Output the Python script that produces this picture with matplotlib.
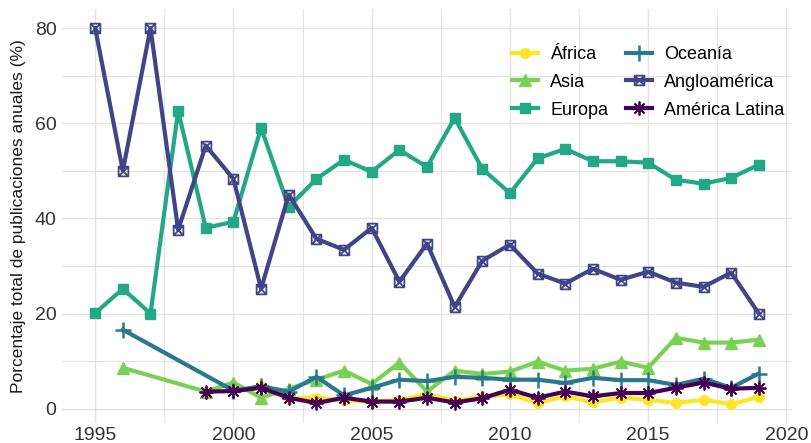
import numpy as np
import matplotlib
matplotlib.use('Agg')
import matplotlib.pyplot as plt
from matplotlib.path import Path

nan = np.nan

# data (percent of yearly publications)
years = list(range(1995, 2020))
africa = [nan, nan, nan, nan, nan, nan, 4.7, 2.3, 2.3, 1.8, 1.5, 1.8, 3.1,
          1.7, 2.5, 3.0, 1.2, 2.6, 1.4, 2.3, 1.9, 1.2, 1.9, 0.9, 2.5]
asia = [nan, 8.6, nan, nan, 3.6, 5.5, 2.3, 4.2, 6.1, 8.0, 5.2, 9.7, 3.6,
        8.0, 7.3, 7.8, 9.9, 8.0, 8.4, 9.9, 8.6, 14.9, 13.9, 13.9, 14.5]
europa = [20.1, 25.2, 20.0, 62.6, 38.0, 39.3, 59.0, 42.4, 48.3, 52.3, 49.8, 54.4, 50.8,
          61.1, 50.4, 45.3, 52.6, 54.6, 52.0, 52.0, 51.7, 48.1, 47.3, 48.5, 51.3]
oceania = [nan, 16.6, nan, nan, nan, 3.8, 4.7, 3.6, 6.7, 2.8, 4.4, 6.1, 5.8,
           6.7, 6.5, 6.1, 6.1, 5.4, 6.5, 6.0, 6.0, 5.0, 6.3, 4.4, 7.4]
angloamerica = [80.0, 50.0, 80.0, 37.6, 55.3, 48.3, 25.2, 45.0, 35.7, 33.4, 38.0, 26.7, 34.7,
                21.4, 31.1, 34.5, 28.4, 26.3, 29.4, 27.1, 28.8, 26.5, 25.6, 28.6, 20.0]
america_latina = [nan, nan, nan, nan, 3.6, 3.7, 4.4, 2.3, 1.2, 2.3, 1.5, 1.5, 2.3,
                  1.3, 2.2, 4.0, 2.3, 3.6, 2.6, 3.3, 3.3, 4.4, 5.5, 4.2, 4.4]

labels = ["África", "Asia", "Europa", "Oceanía", "Angloamérica", "América Latina"]
colors = ["#FDE725", "#7AD151", "#22A884", "#2A788E", "#414487", "#440154"]

# square with an x inside (ggplot shape 7)
box_x = Path([(-1, -1), (1, -1), (1, 1), (-1, 1), (-1, -1), (-1, -1), (1, 1), (-1, 1), (1, -1)],
             [Path.MOVETO, Path.LINETO, Path.LINETO, Path.LINETO, Path.CLOSEPOLY,
              Path.MOVETO, Path.LINETO, Path.MOVETO, Path.LINETO])

styles = [
    dict(marker='o', ms=7),
    dict(marker='^', ms=8.5),
    dict(marker='s', ms=7),
    dict(marker='+', ms=11, mew=1.8),
    dict(marker=box_x, ms=7, mfc='none', mew=1.3),
    dict(marker=(8, 2, 0), ms=10, mew=1.3),
]

plt.rcParams['font.family'] = ['Liberation Sans', 'DejaVu Sans']

fig = plt.figure(figsize=(8.11, 4.43), dpi=100)
ax = fig.add_axes([62 / 811, 20 / 443, 730 / 811, 414 / 443])

x = np.array(years)
for vals, lab, col, st in zip([africa, asia, europa, oceania, angloamerica, america_latina],
                              labels, colors, styles):
    y = np.array(vals, dtype=float)
    ok = ~np.isnan(y)
    ax.plot(x[ok], y[ok], color=col, lw=3.0, label=lab, **st)

ax.set_xlim(1993.8, 2020.2)
ax.set_ylim(-3, 84)
ax.set_xticks([1995, 2000, 2005, 2010, 2015, 2020])
ax.set_xticks([1997.5, 2002.5, 2007.5, 2012.5, 2017.5], minor=True)
ax.set_yticks([0, 20, 40, 60, 80])
ax.set_yticks([10, 30, 50, 70], minor=True)
ax.grid(True, which='major', color='#e3e3e3', lw=1.0)
ax.grid(True, which='minor', color='#e3e3e3', lw=0.8)
ax.set_axisbelow(True)
for s in ax.spines.values():
    s.set_visible(False)
ax.tick_params(which='both', length=0, labelsize=14, colors='#333333', pad=4)
ax.tick_params(axis='x', pad=3)
ax.set_ylabel("Porcentaje total de publicaciones anuales (%)", fontsize=12.5, color='#1a1a1a', labelpad=6)

ax.legend(ncol=2, loc='upper right', bbox_to_anchor=(1.012, 0.95), frameon=False, fontsize=13,
          handlelength=1.4, handletextpad=0.7, columnspacing=1.0, labelspacing=0.6)

fig.savefig("out.png", dpi=100)
